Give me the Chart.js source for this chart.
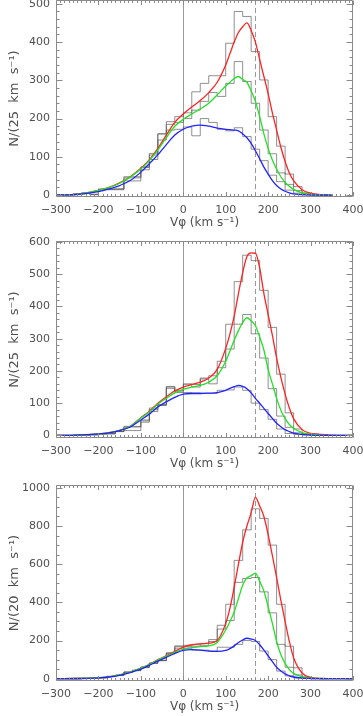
<!DOCTYPE html>
<html>
<head>
<meta charset="utf-8">
<script src="https://cdn.jsdelivr.net/npm/chart.js@4.4.1/dist/chart.umd.min.js"></script>
<style>
  html, body { margin: 0; padding: 0; background: #fff; }
  body { width: 363px; height: 716px; position: relative; overflow: hidden; }
  canvas { position: absolute; left: 0; }
</style>
</head>
<body>
<canvas id="c1" width="363" height="232" style="top:0px"></canvas>
<canvas id="c2" width="363" height="237" style="top:236px"></canvas>
<canvas id="c3" width="363" height="236" style="top:480px"></canvas>
<script>
// HISTOGRAM BINS (left edges, 20 km/s wide)
const histEdges = [-300, -280, -260, -240, -220, -200, -180, -160, -140, -120, -100, -80, -60, -40, -20,
  0, 20, 40, 60, 80, 100, 120, 140, 160, 180, 200, 220, 240, 260, 280, 300, 320];
const histEnd = 340;

// x positions of the smooth curves
const curveX = [-300, -250, -200, -175, -150, -125, -100, -80, -60, -40, -20, 0, 20, 40, 60, 80, 100, 110, 120, 130,
  140, 150, 160, 170, 180, 190, 200, 210, 220, 230, 240, 250, 260, 280, 300, 325, 350, 400];

const xTicks = [-300, -200, -100, 0, 100, 200, 300, 400];
const yTicks1 = [0, 100, 200, 300, 400, 500];
const yTicks2 = [0, 100, 200, 300, 400, 500, 600];
const yTicks3 = [0, 200, 400, 600, 800, 1000];
const dashAt = 170;

// PANEL 1
const p1HistRed = [0, 1, 4, 6, 2, 16, 16, 16, 48, 48, 74, 109, 160, 192, 205, 215, 270, 292, 312, 312, 397, 480, 467, 375, 301, 205, 128, 55, 22, 6, 2, 1];
const p1HistGreen = [0, 1, 2, 4, 2, 15, 15, 16, 45, 45, 72, 105, 160, 185, 190, 200, 222, 245, 268, 258, 292, 349, 297, 240, 170, 108, 58, 28, 12, 4, 1, 0];
const p1HistBlue = [0, 1, 1, 5, 1, 14, 14, 14, 37, 37, 66, 93, 144, 170, 172, 178, 155, 200, 190, 172, 168, 176, 153, 120, 90, 52, 35, 13, 5, 1, 0, 0];
const p1Red = [0, 2, 12, 20, 32, 48, 70, 92, 122, 157, 190, 212, 230, 247, 268, 295, 340, 370, 400, 425, 440, 450, 430, 400, 355, 310, 265, 215, 170, 125, 88, 58, 38, 14, 5, 1, 0, null];
const p1Green = [0, 2, 12, 20, 31, 47, 68, 90, 118, 150, 180, 198, 212, 225, 240, 262, 285, 295, 305, 310, 302, 295, 272, 245, 205, 160, 122, 92, 68, 48, 33, 23, 15, 6, 2, 0, 0, null];
const p1Blue = [0, 2, 9, 16, 25, 38, 60, 82, 105, 132, 157, 172, 180, 183, 180, 175, 172, 171, 170, 168, 160, 150, 135, 116, 95, 73, 55, 38, 25, 16, 10, 6, 3, 1, 0, 0, 0, null];

// PANEL 2
const p2HistRed = [0, 0, 1, 1, 2, 5, 6, 12, 28, 28, 48, 85, 95, 152, 137, 160, 158, 178, 185, 230, 345, 477, 559, 542, 450, 335, 190, 70, 20, 5, 5, 3];
const p2HistGreen = [0, 0, 1, 1, 2, 5, 5, 12, 26, 26, 45, 80, 95, 150, 140, 157, 150, 175, 160, 210, 268, 345, 375, 315, 240, 145, 60, 25, 8, 3, 2, 1];
const p2HistBlue = [0, 0, 1, 1, 2, 4, 5, 12, 15, 15, 41, 74, 93, 146, 133, 133, 132, 131, 130, 140, 141, 150, 140, 100, 80, 50, 20, 6, 3, 1, 0, 0];
const p2Red = [0, 1, 5, 9, 16, 28, 55, 75, 100, 120, 138, 150, 158, 165, 178, 205, 270, 315, 370, 440, 505, 555, 566, 565, 520, 440, 375, 310, 240, 180, 128, 85, 52, 18, 6, 3, 1, 0];
const p2Green = [0, 1, 5, 9, 16, 28, 54, 73, 97, 115, 132, 143, 150, 155, 165, 185, 230, 262, 295, 325, 350, 365, 355, 340, 305, 265, 205, 160, 115, 78, 52, 34, 22, 9, 3, 1, 0, 0];
const p2Blue = [0, 1, 5, 8, 15, 26, 48, 66, 88, 104, 118, 128, 130, 130, 131, 133, 140, 146, 151, 155, 152, 145, 132, 115, 100, 84, 68, 53, 38, 27, 18, 12, 7, 3, 1, 0, 0, 0];

// PANEL 3
const p3HistRed = [0, 0, 0, 1, 2, 5, 12, 18, 35, 44, 61, 82, 96, 135, 172, 175, 178, 185, 205, 280, 390, 620, 780, 890, 840, 700, 390, 170, 57, 10, 3, 1];
const p3HistGreen = [0, 0, 0, 1, 2, 5, 12, 18, 35, 44, 61, 82, 96, 135, 168, 168, 170, 175, 195, 260, 305, 505, 525, 530, 455, 345, 180, 60, 20, 5, 1, 0];
const p3HistBlue = [0, 0, 0, 1, 2, 5, 12, 17, 33, 42, 58, 80, 94, 130, 160, 160, 150, 150, 145, 165, 165, 180, 200, 195, 145, 100, 40, 15, 5, 1, 0, 0];
const p3Red = [0, 1, 5, 10, 20, 35, 55, 75, 100, 120, 143, 165, 178, 183, 186, 200, 290, 370, 480, 600, 715, 800, 870, 950, 905, 850, 755, 645, 530, 410, 300, 195, 110, 30, 6, 1, 0, 0];
const p3Green = [0, 1, 5, 10, 20, 35, 55, 74, 97, 117, 138, 155, 163, 168, 172, 190, 255, 300, 350, 420, 490, 528, 540, 553, 510, 460, 378, 290, 195, 125, 80, 48, 28, 10, 3, 1, 0, 0];
const p3Blue = [0, 1, 4, 9, 18, 32, 50, 70, 92, 112, 132, 148, 152, 150, 145, 143, 148, 158, 172, 190, 203, 212, 208, 200, 178, 150, 120, 90, 60, 40, 25, 15, 9, 3, 1, 0, 0, 0];

const textColor = '#505050';
const frameColor = '#8a8a8a';
const histColor = 'rgba(85,85,85,0.65)';

// frame with inward ticks on all four sides + the two vertical lines
const framePlugin = {
  id: 'frame',
  beforeDatasetsDraw(chart) {
    const { ctx, chartArea: a, scales } = chart;
    const x0 = Math.round(scales.x.getPixelForValue(0)) + 0.5;
    const xd = Math.round(scales.x.getPixelForValue(dashAt)) + 0.5;
    ctx.save();
    ctx.strokeStyle = '#9a9a9a';
    ctx.lineWidth = 1;
    ctx.beginPath();
    ctx.moveTo(x0, a.top);
    ctx.lineTo(x0, a.bottom);
    ctx.stroke();
    ctx.setLineDash([5, 3]);
    ctx.beginPath();
    ctx.moveTo(xd, a.top);
    ctx.lineTo(xd, a.bottom);
    ctx.stroke();
    ctx.restore();
  },
  afterDatasetsDraw(chart, args, opts) {
    const { ctx, chartArea: a, scales } = chart;
    const x = scales.x, y = scales.y;
    const l = Math.round(a.left) + 0.5, r = Math.round(a.right) - 0.5;
    const t = Math.round(a.top) + 0.5, b = Math.round(a.bottom) - 0.5;
    ctx.save();
    ctx.strokeStyle = frameColor;
    ctx.lineWidth = 1;
    ctx.beginPath();
    ctx.rect(l, t, r - l, b - t);
    for (let v = x.min; v <= x.max + 0.001; v += opts.xMinor) {
      const px = Math.round(x.getPixelForValue(v)) + 0.5;
      const len = Math.abs(v % 100) < 0.001 ? 4.5 : 2.5;
      ctx.moveTo(px, b); ctx.lineTo(px, b - len);
      ctx.moveTo(px, t); ctx.lineTo(px, t + len);
    }
    for (let v = Math.ceil(y.min / opts.yMinor) * opts.yMinor; v <= y.max; v += opts.yMinor) {
      const py = Math.round(y.getPixelForValue(v)) + 0.5;
      const len = v % opts.yStep === 0 ? 6 : 3;
      ctx.moveTo(l, py); ctx.lineTo(l + len, py);
      ctx.moveTo(r, py); ctx.lineTo(r - len, py);
    }
    ctx.stroke();
    ctx.restore();
  }
};

function histData(values) {
  var pts = histEdges.map((e, i) => ({ x: e, y: values[i] }));
  pts.push({ x: histEnd, y: values[values.length - 1] });
  return pts;
}

function curveData(values) {
  return curveX.map((x, i) => ({ x: x, y: values[i] }));
}

function curveSet(values, color) {
  return {
    data: curveData(values),
    borderColor: color,
    borderWidth: 1.3,
    pointRadius: 0,
    cubicInterpolationMode: 'monotone',
    spanGaps: false,
    fill: false
  };
}

function histSet(values) {
  return {
    data: histData(values),
    borderColor: histColor,
    borderWidth: 1,
    pointRadius: 0,
    stepped: true,
    fill: false
  };
}

function makePanel(id, p) {
  var canvas = document.getElementById(id);
  return new Chart(canvas, {
    type: 'line',
    data: {
      datasets: [
        curveSet(p.blue, 'rgb(35,35,255)'),
        curveSet(p.green, 'rgb(35,225,35)'),
        curveSet(p.red, 'rgb(255,35,35)'),
        histSet(p.histBlue),
        histSet(p.histGreen),
        histSet(p.histRed)
      ]
    },
    options: {
      responsive: false,
      animation: false,
      devicePixelRatio: 1,
      layout: { padding: { top: p.padTop, right: 10, left: 0, bottom: 0 } },
      plugins: {
        legend: { display: false },
        tooltip: { enabled: false },
        frame: { xMinor: 10, yMinor: p.yMinor, yStep: p.yStep }
      },
      scales: {
        x: {
          type: 'linear',
          min: -300,
          max: 400,
          grid: { display: false, drawTicks: false },
          border: { display: false },
          afterBuildTicks: s => { s.ticks = xTicks.map(v => ({ value: v })); },
          ticks: {
            autoSkip: false,
            maxRotation: 0,
            padding: 7,
            color: textColor,
            font: { family: 'DejaVu Sans', size: 11 },
            callback: v => String(v).replace('-', '\u2212')
          },
          title: {
            display: true,
            text: 'V\u03c6 (km s\u207b\u00b9)',
            color: textColor,
            font: { family: 'DejaVu Sans', size: 12 },
            padding: { top: 0, bottom: 2 }
          },
          afterFit: s => { s.height = 35; s.paddingLeft = 0; s.paddingRight = 0; }
        },
        y: {
          type: 'linear',
          min: p.yMin,
          max: p.yMax,
          grid: { display: false, drawTicks: false },
          border: { display: false },
          afterBuildTicks: s => { s.ticks = p.yTicks.map(v => ({ value: v })); },
          ticks: {
            autoSkip: false,
            padding: 6,
            color: textColor,
            font: { family: 'DejaVu Sans', size: 11 },
            callback: v => String(v)
          },
          title: {
            display: true,
            text: p.yTitle,
            color: textColor,
            font: { family: 'DejaVu Sans', size: 13 },
            padding: { top: 7, bottom: 0 }
          },
          afterFit: s => { s.width = 56; s.paddingTop = 0; s.paddingBottom = 0; }
        }
      }
    },
    plugins: [framePlugin]
  });
}

makePanel('c1', {
  red: p1Red, green: p1Green, blue: p1Blue,
  histRed: p1HistRed, histGreen: p1HistGreen, histBlue: p1HistBlue,
  yMin: -5, yMax: 510, yStep: 100, yMinor: 20, yTicks: yTicks1, padTop: 0,
  yTitle: 'N/(25  km  s\u207b\u00b9)'
});

makePanel('c2', {
  red: p2Red, green: p2Green, blue: p2Blue,
  histRed: p2HistRed, histGreen: p2HistGreen, histBlue: p2HistBlue,
  yMin: -8, yMax: 603, yStep: 100, yMinor: 20, yTicks: yTicks2, padTop: 5,
  yTitle: 'N/(25  km  s\u207b\u00b9)'
});

makePanel('c3', {
  red: p3Red, green: p3Green, blue: p3Blue,
  histRed: p3HistRed, histGreen: p3HistGreen, histBlue: p3HistBlue,
  yMin: -12, yMax: 1015, yStep: 200, yMinor: 50, yTicks: yTicks3, padTop: 5,
  yTitle: 'N/(20  km  s\u207b\u00b9)'
});
</script>
</body>
</html>
